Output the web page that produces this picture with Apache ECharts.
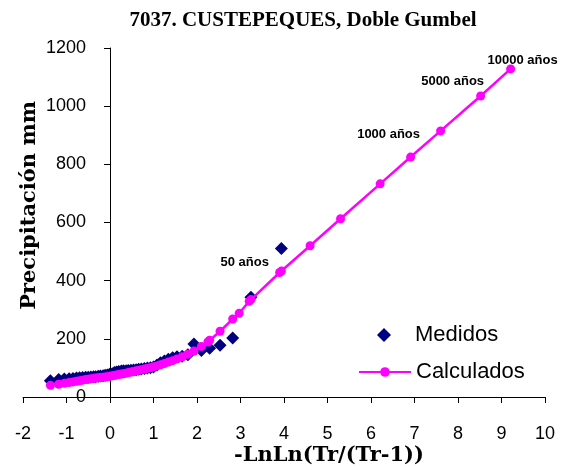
<!DOCTYPE html>
<html>
<head>
<meta charset="utf-8">
<script src="https://cdn.jsdelivr.net/npm/echarts@6/dist/echarts.min.js"></script>
<style>
  html, body { margin: 0; padding: 0; background: #fff; }
  #chart { width: 563px; height: 470px; }
</style>
</head>
<body>
<div id="chart"></div>
<script>
// measured values (Medidos), plotting position -LnLn(Tr/(Tr-1)) vs mm
const xMedidos = [-1.37, -1.18, -1.05, -0.94, -0.85, -0.77, -0.70, -0.63, -0.56, -0.50,
  -0.44, -0.38, -0.33, -0.27, -0.22, -0.16, -0.11, -0.06, -0.01, 0.05,
  0.10, 0.15, 0.20, 0.26, 0.31, 0.37, 0.42, 0.48, 0.54, 0.60,
  0.66, 0.72, 0.79, 0.86, 0.93, 1.00, 1.08, 1.16, 1.25, 1.34,
  1.44, 1.54, 1.66, 1.79, 1.93, 2.10, 2.29, 2.53, 2.82, 3.24, 3.94]
const yMedidos = [56, 60, 62, 63, 64, 65, 66, 67, 68, 68,
  69, 70, 70, 71, 72, 73, 75, 76, 78, 80,
  84, 86, 88, 89, 90, 90, 91, 92, 93, 94,
  95, 96, 98, 100, 101, 103, 110, 118, 124, 130,
  135, 138, 140, 145, 182, 160, 168, 178, 203, 343, 511]

// calculated values (Calculados), Doble Gumbel fit
const xCalculados = [-1.37, -1.18, -1.05, -0.94, -0.85, -0.77, -0.70, -0.63, -0.56, -0.50,
  -0.44, -0.38, -0.33, -0.27, -0.22, -0.16, -0.11, -0.06, -0.01, 0.05,
  0.10, 0.15, 0.20, 0.26, 0.31, 0.37, 0.42, 0.48, 0.54, 0.60,
  0.66, 0.72, 0.79, 0.86, 0.93, 1.00, 1.08, 1.16, 1.25, 1.34,
  1.44, 1.54, 1.66, 1.79, 1.93, 2.10, 2.25, 2.29, 2.53, 2.82,
  2.97, 3.20, 3.24, 3.90, 3.94, 4.60, 5.30, 6.21, 6.91, 7.60, 8.52, 9.21]
const yCalculados = [40, 44, 47, 50, 52, 54, 56, 58, 60, 61,
  63, 64, 65, 66, 67, 68, 69, 70, 71, 73,
  74, 76, 77, 79, 80, 82, 84, 86, 88, 90,
  92, 94, 96, 99, 101, 104, 107, 111, 115, 120,
  125, 131, 138, 147, 158, 174, 189, 195, 226, 268,
  288, 329, 335, 428, 433, 520, 613, 733, 825, 915, 1035, 1128]

// return period annotations
const periodX = [3.90, 6.91, 8.52, 9.21]
const periodText = ['50 años', '1000 años', '5000 años', '10000 años']
const periodOffset = [[-35, -10], [-22, -23], [-28, -15], [12, -9]]

const chart = echarts.init(document.getElementById('chart'))

const medidosData = xMedidos.map((x, i) => [x, yMedidos[i]])
const calculadosData = xCalculados.map((x, i) => {
  const k = periodX.indexOf(x)
  if (k < 0) return [x, yCalculados[i]]
  return {
    value: [x, yCalculados[i]],
    label: {
      show: true,
      formatter: periodText[k],
      position: 'inside',
      offset: periodOffset[k],
      color: '#000',
      fontSize: 13,
      fontWeight: 'bold',
      fontFamily: '"Liberation Sans Narrow", "Liberation Sans", Arial, sans-serif'
    }
  }
})

const sansFont = '"Liberation Sans", Arial, sans-serif'
const axisFont = { fontFamily: sansFont, fontSize: 18, color: '#000', formatter: v => String(v) }
const titleFont = { fontFamily: '"Liberation Serif", "Times New Roman", serif', fontSize: 21, fontWeight: 'bold', color: '#000' }
const nameFont = { fontFamily: '"DejaVu Serif", "Liberation Serif", serif', fontSize: 21, fontWeight: 'bold', color: '#000' }
const legendText = { fontFamily: sansFont, fontSize: 22, color: '#000' }

chart.setOption({
  animation: false,
  backgroundColor: '#fff',
  title: {
    text: '7037. CUSTEPEQUES, Doble Gumbel',
    left: 298,
    top: 5,
    textAlign: 'center',
    textStyle: titleFont
  },
  grid: {
    left: 23,
    right: 18,
    top: 48,
    bottom: 73,
    outerBoundsMode: 'none'
  },
  legend: [
    {
      left: 372,
      top: 319,
      itemWidth: 14,
      itemHeight: 14,
      textStyle: Object.assign({ padding: [0, 0, 0, 19] }, legendText),
      data: [{ name: 'Medidos', icon: 'diamond' }]
    },
    {
      left: 353,
      top: 356,
      itemWidth: 52,
      itemHeight: 12,
      textStyle: legendText,
      data: ['Calculados']
    }
  ],
  xAxis: {
    type: 'value',
    min: -2,
    max: 10,
    interval: 1,
    name: '-LnLn(Tr/(Tr-1))',
    nameLocation: 'middle',
    nameGap: 48,
    nameMoveOverlap: false,
    nameTextStyle: Object.assign({ padding: [0, 0, 0, 90] }, nameFont),
    splitLine: { show: false },
    axisLine: { lineStyle: { color: '#000', width: 1 } },
    axisTick: { show: true, length: 6, lineStyle: { color: '#000' } },
    axisLabel: Object.assign({ margin: 28 }, axisFont)
  },
  yAxis: {
    type: 'value',
    min: 0,
    max: 1200,
    interval: 200,
    // y axis crosses at x = 0 (23px + 2 units * 43.5px)
    offset: -87,
    name: 'Precipitación mm',
    nameLocation: 'middle',
    nameGap: 70,
    nameMoveOverlap: false,
    nameTextStyle: Object.assign({ padding: [0, 0, 0, 34] }, nameFont),
    splitLine: { show: false },
    axisLine: { onZero: false, lineStyle: { color: '#000', width: 1 } },
    axisTick: { show: true, length: 6, lineStyle: { color: '#000' } },
    axisLabel: Object.assign({ margin: 24 }, axisFont)
  },
  series: [
    {
      name: 'Medidos',
      type: 'scatter',
      symbol: 'diamond',
      symbolSize: 13,
      itemStyle: { color: '#000080', opacity: 1 },
      data: medidosData
    },
    {
      name: 'Calculados',
      type: 'line',
      symbol: 'circle',
      symbolSize: 9,
      showAllSymbol: true,
      itemStyle: { color: '#FF00FF' },
      lineStyle: { color: '#FF00FF', width: 2.5 },
      data: calculadosData
    }
  ]
})
</script>
</body>
</html>
